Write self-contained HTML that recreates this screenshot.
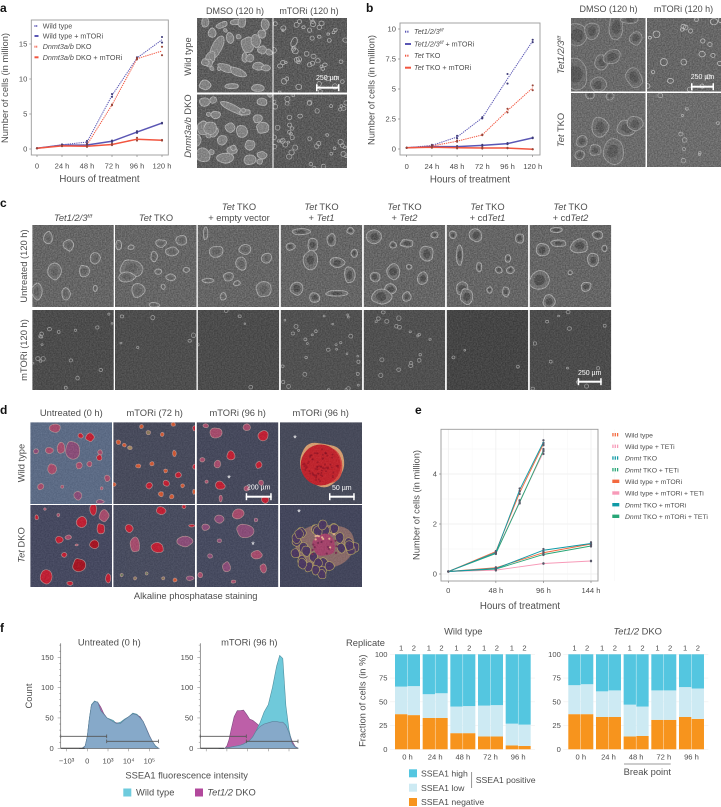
<!DOCTYPE html>
<html lang="en">
<head>
<meta charset="utf-8">
<title>Cell proliferation figure</title>
<style>
html,body{margin:0;padding:0;background:#fff;}
svg{display:block;font-family:"Liberation Sans",sans-serif;}
text{fill:#4d4d4d;}
.t{font-size:9.35px;}
.hd{font-size:9px;}
.fl{font-size:8.7px;}
.tick{font-size:7.6px;}
.leg{font-size:7.2px;}
.lege{font-size:6.8px;}
.letter{font-size:12px;font-weight:bold;fill:#111;}
.mid{text-anchor:middle;}
.w{fill:#fff;font-size:7px;}
</style>
</head>
<body>
<svg id="root" xmlns="http://www.w3.org/2000/svg" width="721" height="807" viewBox="0 0 721 807">
<defs>
<filter id="grain" x="0" y="0" width="100%" height="100%" color-interpolation-filters="sRGB">
<feTurbulence type="fractalNoise" baseFrequency="0.75" numOctaves="2" seed="4"/>
<feColorMatrix values="1.7 0 0 0 -.35 1.7 0 0 0 -.35 1.7 0 0 0 -.35 0 0 0 0 .3"/>
</filter>
</defs>
<g id="micrographs"></g>
<g id="charts"></g>

<g>
<text class="letter" x="0" y="12">a</text>
<text class="letter" x="366" y="12">b</text>
<text class="letter" x="0" y="207">c</text>
<text class="letter" x="0" y="414">d</text>
<text class="letter" x="415" y="414">e</text>
<text class="letter" x="0" y="632">f</text>
</g>

<g>
<text class="hd mid" x="235" y="14">DMSO (120 h)</text>
<text class="hd mid" x="309" y="14">mTORi (120 h)</text>
<text class="t mid" transform="translate(191,56.5) rotate(-90)">Wild type</text>
<text class="t mid" transform="translate(191,126) rotate(-90)"><tspan font-style="italic">Dnmt3a/b</tspan> DKO</text>
<text class="t mid" transform="translate(8,88) rotate(-90)">Number of cells (in million)</text>
<text class="t mid" x="99.5" y="182" style="font-size:9.7px">Hours of treatment</text>
<text class="leg" x="42.7" y="28.6">Wild type</text>
<text class="leg" x="42.7" y="38.6">Wild type + mTORi</text>
<text class="leg" x="42.7" y="49.2"><tspan font-style="italic">Dnmt3a/b</tspan> DKO</text>
<text class="leg" x="42.7" y="59.8"><tspan font-style="italic">Dnmt3a/b</tspan> DKO + mTORi</text>
</g>

<g>
<text class="hd mid" x="608.5" y="12">DMSO (120 h)</text>
<text class="hd mid" x="683.5" y="12">mTORi (120 h)</text>
<text class="t mid" transform="translate(564,55) rotate(-90)"><tspan font-style="italic">Tet1/2/3</tspan><tspan font-style="italic" font-size="5.5" dy="-3">f/f</tspan></text>
<text class="t mid" transform="translate(564,130) rotate(-90)"><tspan font-style="italic">Tet</tspan> TKO</text>
<text class="t mid" transform="translate(374.5,90) rotate(-90)">Number of cells (in million)</text>
<text class="t mid" x="470" y="182.5" style="font-size:9.7px">Hours of treatment</text>
<text class="leg" x="414" y="34.2"><tspan font-style="italic">Tet1/2/3</tspan><tspan font-style="italic" font-size="4.5" dy="-2.5">f/f</tspan></text>
<text class="leg" x="414" y="46.6"><tspan font-style="italic">Tet1/2/3</tspan><tspan font-style="italic" font-size="4.5" dy="-2.5">f/f</tspan><tspan dy="2.5"> + mTORi</tspan></text>
<text class="leg" x="414" y="58.2"><tspan font-style="italic">Tet</tspan> TKO</text>
<text class="leg" x="414" y="70.2"><tspan font-style="italic">Tet</tspan> TKO + mTORi</text>
</g>

<g>
<text class="t mid" x="73" y="221"><tspan font-style="italic">Tet1/2/3</tspan><tspan font-style="italic" font-size="5.5" dy="-3">f/f</tspan></text>
<text class="t mid" x="156" y="221"><tspan font-style="italic">Tet</tspan> TKO</text>
<text class="t mid" x="239" y="210"><tspan font-style="italic">Tet</tspan> TKO</text>
<text class="t mid" x="239" y="221">+ empty vector</text>
<text class="t mid" x="321.5" y="210"><tspan font-style="italic">Tet</tspan> TKO</text>
<text class="t mid" x="321.5" y="221">+ <tspan font-style="italic">Tet1</tspan></text>
<text class="t mid" x="404.5" y="210"><tspan font-style="italic">Tet</tspan> TKO</text>
<text class="t mid" x="404.5" y="221">+ <tspan font-style="italic">Tet2</tspan></text>
<text class="t mid" x="487.5" y="210"><tspan font-style="italic">Tet</tspan> TKO</text>
<text class="t mid" x="487.5" y="221">+ cd<tspan font-style="italic">Tet1</tspan></text>
<text class="t mid" x="570.5" y="210"><tspan font-style="italic">Tet</tspan> TKO</text>
<text class="t mid" x="570.5" y="221">+ cd<tspan font-style="italic">Tet2</tspan></text>
<text class="t mid" transform="translate(27,266) rotate(-90)">Untreated (120 h)</text>
<text class="t mid" transform="translate(27,350) rotate(-90)">mTORi (120 h)</text>
</g>

<g>
<text class="t mid" x="71.3" y="416">Untreated (0 h)</text>
<text class="t mid" x="154.7" y="416">mTORi (72 h)</text>
<text class="t mid" x="237.7" y="416">mTORi (96 h)</text>
<text class="t mid" x="320.7" y="416">mTORi (96 h)</text>
<text class="t mid" transform="translate(24.5,463) rotate(-90)">Wild type</text>
<text class="t mid" transform="translate(24.5,545) rotate(-90)"><tspan font-style="italic">Tet</tspan> DKO</text>
<text class="t mid" x="195.7" y="599">Alkaline phosphatase staining</text>
</g>

<g>
<text class="t mid" transform="translate(419.5,505) rotate(-90)">Number of cells (in million)</text>
<text class="t mid" x="520" y="609" style="font-size:9.7px">Hours of treatment</text>
<text class="lege" x="625" y="437.3">Wild type</text>
<text class="lege" x="625" y="449">Wild type + TETi</text>
<text class="lege" x="625" y="460.6"><tspan font-style="italic">Dnmt</tspan> TKO</text>
<text class="lege" x="625" y="472.3"><tspan font-style="italic">Dnmt</tspan> TKO + TETi</text>
<text class="lege" x="625" y="484">Wild type + mTORi</text>
<text class="lege" x="625" y="495.6">Wild type + mTORi + TETi</text>
<text class="lege" x="625" y="507.3"><tspan font-style="italic">Dnmt</tspan> TKO + mTORi</text>
<text class="lege" x="625" y="519"><tspan font-style="italic">Dnmt</tspan> TKO + mTORi + TETi</text>
</g>

<g>
<text class="t mid" x="109.3" y="645.5">Untreated (0 h)</text>
<text class="t mid" x="249.3" y="645.5">mTORi (96 h)</text>
<text class="t mid" transform="translate(32,696) rotate(-90)">Count</text>
<text class="t mid" x="186.7" y="778.5">SSEA1 fluorescence intensity</text>
<rect x="123.3" y="788.5" width="8" height="8" fill="#6ecbdd"/>
<text class="t" x="136" y="795.5">Wild type</text>
<rect x="195" y="788.5" width="8" height="8" fill="#b2489c"/>
<text class="t" x="207.3" y="795.5"><tspan font-style="italic">Tet1/2</tspan> DKO</text>
<text class="t mid" x="463.3" y="634.5">Wild type</text>
<text class="t mid" x="637.7" y="634.5"><tspan font-style="italic">Tet1/2</tspan> DKO</text>
<text class="t" x="346" y="646">Replicate</text>
<text class="t mid" transform="translate(365.5,700.7) rotate(-90)">Fraction of cells (in %)</text>
<line x1="624" y1="764" x2="670.7" y2="764" stroke="#777" stroke-width=".7"/>
<text class="t mid" x="647.3" y="775">Break point</text>
<rect x="409" y="769.3" width="8" height="8" fill="#54c6e0"/>
<text class="fl" x="421" y="776.5">SSEA1 high</text>
<rect x="409" y="783.7" width="8" height="8" fill="#cdeaf3"/>
<text class="fl" x="421" y="790.8">SSEA1 low</text>
<rect x="409" y="798" width="8" height="8" fill="#f7941d"/>
<text class="fl" x="421" y="805">SSEA1 negative</text>
<line x1="471.7" y1="772" x2="471.7" y2="788" stroke="#666" stroke-width=".7"/>
<text class="fl" x="475.7" y="782.8">SSEA1 positive</text>
</g>
</svg>

<script>
/* ---------- panel a data ---------- */
const aHours = [0, 24, 48, 72, 96, 120];
const aHourLabels = ['0', '24 h', '48 h', '72 h', '96 h', '120 h'];
const aYTicks = [0, 5, 10, 15];
const aWtRep1 = [0.1, 0.65, 1.15, 7.85, 13.1, 16];
const aWtRep2 = [0.1, 0.55, 0.85, 7.45, 12.9, 15.2];
const aWtMtorRep1 = [0.1, 0.6, 0.65, 1.2, 2.55, 3.75];
const aWtMtorRep2 = [0.1, 0.5, 0.5, 1.0, 2.3, 3.65];
const aDkoRep1 = [0.1, 0.55, 0.75, 6.35, 13, 14.6];
const aDkoRep2 = [0.1, 0.45, 0.45, 6.25, 12.8, 13.4];
const aDkoMtorRep1 = [0.1, 0.5, 0.5, 0.75, 1.6, 1.3];
const aDkoMtorRep2 = [0.1, 0.4, 0.3, 0.55, 1.2, 1.2];

/* ---------- panel b data ---------- */
const bHours = [0, 24, 48, 72, 96, 120];
const bHourLabels = ['0', '24 h', '48 h', '72 h', '96 h', '120 h'];
const bYTicks = [0, 2.5, 5, 7.5, 10];
const bFlRep1 = [0.1, 0.35, 1.1, 2.65, 6.25, 9.1];
const bFlRep2 = [0.1, 0.25, 0.9, 2.55, 5.45, 8.9];
const bFlMtorRep1 = [0.1, 0.25, 0.25, 0.35, 0.5, 0.95];
const bFlMtorRep2 = [0.1, 0.15, 0.15, 0.25, 0.4, 0.9];
const bTkoRep1 = [0.1, 0.3, 0.7, 1.2, 3.35, 5.3];
const bTkoRep2 = [0.1, 0.2, 0.6, 1.15, 3.05, 4.9];
const bTkoMtorRep1 = [0.1, 0.2, 0.15, 0.12, 0.1, -0.01];
const bTkoMtorRep2 = [0.1, 0.1, 0.05, 0.04, 0.06, -0.03];

/* ---------- panel e data ---------- */
const eTickHours = [0, 48, 96, 144];
const eTickLabels = ['0', '48 h', '96 h', '144 h'];
const eYTicks = [0, 2, 4];
const eUntreatedHours = [0, 48, 72, 96];
const eMtorHours = [0, 48, 96, 144];
const eWtRep1 = [0.1, 0.92, 3.3, 5.25];
const eWtRep2 = [0.1, 0.88, 3.2, 5.15];
const eWtTetiRep1 = [0.1, 0.86, 2.95, 4.95];
const eWtTetiRep2 = [0.1, 0.82, 2.85, 4.8];
const eDnmtRep1 = [0.1, 0.88, 3.42, 5.35];
const eDnmtRep2 = [0.1, 0.84, 3.32, 5.2];
const eDnmtTetiRep1 = [0.1, 0.84, 2.92, 5.0];
const eDnmtTetiRep2 = [0.1, 0.8, 2.82, 4.9];
const eWtMtorRep1 = [0.1, 0.27, 0.88, 1.22];
const eWtMtorRep2 = [0.1, 0.23, 0.82, 1.18];
const eWtMtorTetiRep1 = [0.1, 0.17, 0.43, 0.53];
const eWtMtorTetiRep2 = [0.1, 0.14, 0.41, 0.51];
const eDnmtMtorRep1 = [0.1, 0.24, 1.0, 1.27];
const eDnmtMtorRep2 = [0.1, 0.2, 0.9, 1.17];
const eDnmtMtorTetiRep1 = [0.1, 0.22, 0.8, 1.14];
const eDnmtMtorTetiRep2 = [0.1, 0.18, 0.76, 1.1];

/* ---------- panel f histogram data ---------- */
const histBins = [-0.4, -0.25, -0.1, 0, 0.1, 0.2, 0.35, 0.5, 0.65, 0.8, 0.95, 1.1, 1.25, 1.4, 1.6, 1.8, 2.0, 2.2, 2.4, 2.55, 2.7, 2.85, 3.0, 3.15, 3.3, 3.45];
const histTickLabels = ['\u221210\u00B3', '0', '10\u00B3', '10\u2074', '10\u2075'];
const histTickValues = [-1, 0, 1, 2, 3];
const histYTicks = [0, 50, 100, 150];
const histUntreatedWt = [0, 0, 4, 20, 50, 72, 78, 76, 62, 56, 50, 48, 46, 41, 43, 48, 52, 58, 56, 50, 44, 32, 20, 11, 4, 0];
const histUntreatedDko = [0, 0, 4, 19, 48, 71, 77, 76, 68, 57, 50, 47, 44, 42, 41, 47, 52, 57, 55, 52, 44, 33, 21, 11, 3, 0];
const histMtorWt = [0, 0, 0, 1, 1, 2, 3, 4, 5, 7, 10, 13, 19, 28, 42, 60, 72, 100, 135, 153, 148, 70, 30, 8, 2, 0];
const histMtorDko = [0, 0, 0, 4, 14, 30, 52, 62, 62, 63, 56, 48, 46, 42, 36, 40, 42, 44, 44, 43, 43, 38, 26, 12, 3, 0];

/* ---------- panel f bar data ---------- */
const barFacets = ['0 h', '24 h', '48 h', '72 h', '96 h'];
const barReplicates = ['1', '2'];
const barYTicks = [0, 25, 50, 75, 100];
const wtNegative = [37, 36, 33, 33, 17, 17, 13.5, 13.5, 4, 3.5];
const wtLow = [29, 30.5, 25, 26, 28, 28.5, 32.5, 33, 23, 22.5];
const wtHigh = [34, 33.5, 42, 41, 55, 54.5, 54, 53.5, 73, 74];
const dkoNegative = [37, 37, 34, 34, 13.5, 14, 31, 31, 34, 32];
const dkoLow = [30.5, 31.5, 27, 28, 33.5, 31, 31, 31, 31.5, 32];
const dkoHigh = [32.5, 31.5, 39, 38, 53, 55, 38, 38, 34.5, 36];

/* ---------- helpers ---------- */
const NS = 'http://www.w3.org/2000/svg';
const micro = document.getElementById('micrographs');
const charts = document.getElementById('charts');
function mk(tag, attrs, parent) {
  const e = document.createElementNS(NS, tag);
  for (const k in attrs) e.setAttribute(k, attrs[k]);
  parent.appendChild(e);
  return e;
}
function mean(a, b) { return a.map((v, i) => (v + b[i]) / 2); }
function seeded(s) {
  return function () {
    s |= 0; s = s + 0x6D2B79F5 | 0;
    let t = Math.imul(s ^ s >>> 15, 1 | s);
    t = t + Math.imul(t ^ t >>> 7, 61 | t) ^ t;
    return ((t ^ t >>> 14) >>> 0) / 4294967296;
  };
}
const shapeRnd = seeded(2024);
function blobPath(cx, cy, rx, ry, rot) {
  const n = 9, pts = [];
  const c = Math.cos((rot || 0) * Math.PI / 180), s = Math.sin((rot || 0) * Math.PI / 180);
  for (let i = 0; i < n; i++) {
    const a = i / n * 2 * Math.PI, f = 0.84 + shapeRnd() * 0.32;
    const px = Math.cos(a) * rx * f, py = Math.sin(a) * ry * f;
    pts.push([cx + px * c - py * s, cy + px * s + py * c]);
  }
  const m = (p, q) => ((p[0] + q[0]) / 2).toFixed(2) + ' ' + ((p[1] + q[1]) / 2).toFixed(2);
  let d = 'M' + m(pts[n - 1], pts[0]);
  for (let i = 0; i < n; i++) {
    d += 'Q' + pts[i][0].toFixed(2) + ' ' + pts[i][1].toFixed(2) + ' ' + m(pts[i], pts[(i + 1) % n]);
  }
  return d + 'Z';
}

/* ---------- micrograph tiles ---------- */
let clipCount = 0;
function tile(name, x, y, w, h, base) {
  const id = 'clip' + (clipCount++);
  const cp = mk('clipPath', { id: id }, micro);
  mk('rect', { x: x, y: y, width: w, height: h }, cp);
  const g = mk('g', { 'clip-path': 'url(#' + id + ')' }, micro);
  
  
  mk('rect', { x: x, y: y, width: w, height: h, fill: base }, g);
  return { g, x, y, w, h };
}
function grain(t, alpha) {
  mk('rect', { x: t.x, y: t.y, width: t.w, height: t.h, filter: 'url(#grain)', opacity: alpha === undefined ? 0.55 : alpha }, t.g);
}
function grayBlobs(t, list, fill, stroke, dark, scale) {
  const k = scale || 1;
  list.forEach(b => {
    mk('path', { d: blobPath(b[0], b[1], b[2] * k, b[3] * k, b[4]), fill: fill, stroke: stroke, 'stroke-width': .9 }, t.g);
    if (dark) mk('path', { d: blobPath(b[0], b[1], b[2] * k * 0.55, b[3] * k * 0.55, b[4]), fill: dark, opacity: .7 }, t.g);
  });
}
function rings(t, n, seed, rMin, rMax, color) {
  const r = seeded(seed);
  for (let i = 0; i < n; i++) {
    const rad = rMin + r() * (rMax - rMin);
    mk('ellipse', { cx: t.x + r() * t.w, cy: t.y + r() * t.h, rx: rad, ry: rad * (0.8 + r() * 0.3), fill: 'none', stroke: color, 'stroke-width': .8 }, t.g);
  }
}
function smallColonies(t, n, seed, fill, stroke) {
  const r = seeded(seed);
  for (let i = 0; i < n; i++) {
    const rad = 2 + r() * 2.5;
    mk('path', { d: blobPath(t.x + r() * t.w, t.y + r() * t.h, rad, rad * (0.7 + r() * 0.4), r() * 90), fill: fill, stroke: stroke, 'stroke-width': .8 }, t.g);
  }
}
function scaleBar(x1, x2, y, label, ty, name) {
  const g = mk('g', {}, micro);
  
  
  mk('rect', { x: x1, y: y - 1, width: x2 - x1, height: 2, fill: '#fff' }, g);
  mk('rect', { x: x1, y: y - 3.5, width: 1.5, height: 7, fill: '#fff' }, g);
  mk('rect', { x: x2 - 1.5, y: y - 3.5, width: 1.5, height: 7, fill: '#fff' }, g);
  const t = mk('text', { x: (x1 + x2) / 2, y: ty, class: 'w mid' }, g);
  t.textContent = label;
}

function buildMicrographs() {
  /* panel a */
  const aFill = '#858585', aStroke = '#b8b8b8';
  let t = tile('a-wild-type-dmso-image', 197, 18, 75.5, 74.5, '#555');
  grayBlobs(t, [[217,47,5,14,28],[210,58,5,7,30],[248,44,7,8,0],[256,41,5,7,0],[226,68,9,4,20],[238,72,9,4,25],[258,66,6,4,0],[266,68,5,3,0],[222,25,6,3,-20],[236,22,6,3,0],[230,38,4,6,0],[265,24,4,6,0],[205,85,6,5,0],[232,86,7,3,0],[258,88,7,4,0],[212,33,4,5,0],[262,50,5,4,0],[242,22,4,6,0],[205,22,4,5,0],[262,34,4,4,0],[245,58,3,5,0]], aFill, aStroke);
  smallColonies(t, 8, 71, aFill, aStroke);
  grain(t);
  t = tile('a-wild-type-mtori-image', 273.5, 18, 73.5, 74.5, '#535353');
  rings(t, 48, 11, 1.2, 3, '#b8b8b8');
  grayBlobs(t, [[294,42,3,5,20]], 'none', '#b8b8b8');
  grain(t);
  t = tile('a-dko-dmso-image', 197, 94.5, 75.5, 73.5, '#575757');
  grayBlobs(t, [[232,108,15,3.5,27],[245,112,6,3,0],[203,128,6,7,0],[216,115,5,4,0],[258,119,5,4,0],[212,131,7,6,0],[210,128,7,7,0],[242,131,6,6,0],[263,128,7,6,0],[222,140,5,5,0],[250,145,5,5,0],[232,150,5,4,0],[203,155,7,8,0],[225,158,8,5,0],[250,160,7,5,0],[262,155,5,4,0],[205,102,6,4,0],[262,102,5,4,0],[230,128,5,5,0],[197,140,4,6,0]], aFill, aStroke);
  smallColonies(t, 8, 72, aFill, aStroke);
  grain(t);
  t = tile('a-dko-mtori-image', 273.5, 94.5, 73.5, 73.5, '#535353');
  rings(t, 45, 23, 1.2, 2.8, '#b0b0b0');
  grain(t);
  scaleBar(316, 339.5, 87.7, '250 \u00B5m', 80, 'a-scale-bar');

  /* panel b */
  t = tile('b-fl-dmso-image', 571, 18, 74.5, 73.5, '#666');
  grayBlobs(t, [[577,35,12,13,0],[592,31,8,9,0],[616,27,8,13,0],[636,38,7,7,0],[602,62,7,8,0],[612,57,10,7,-30],[634,77,8,11,-20],[575,75,14,16,0],[598,85,8,8,0],[630,20,9,4,0]], '#6a6a6a', '#9c9c9c', '#474747');
  grain(t);
  t = tile('b-fl-mtori-image', 647, 18, 74, 73.5, '#626262');
  rings(t, 22, 37, 1.5, 3.6, '#c6c6c6');
  grain(t);
  t = tile('b-tko-dmso-image', 571, 93, 74.5, 74, '#686868');
  grayBlobs(t, [[600,127,9,11,0],[627,128,10,9,0],[635,124,8,8,0],[582,141,6,6,0],[595,150,6,6,0],[613,151,11,13,0],[580,155,5,5,0],[590,95,5,4,0],[610,96,4,4,0]], '#6c6c6c', '#a4a4a4', '#4a4a4a');
  grain(t);
  t = tile('b-tko-mtori-image', 647, 93, 74, 74, '#696969');
  rings(t, 10, 41, 1, 2.6, '#b4b4b4');
  grain(t);
  scaleBar(691, 714, 86.7, '250 \u00B5m', 79, 'b-scale-bar');

  /* panel c */
  const cX = [32.3, 115, 197.7, 280.7, 363.7, 446.7, 529.7];
  const cTop = [
    [[105,145,10,20],[150,165,12,18],[207,205,12,20],[118,245,15,25],[183,243,12,18],[80,305,12,25],[143,310,10,20],[207,295,5,10]],
    [[350,160,12,12],[395,150,12,15],[335,200,8,18],[375,185,15,14],[285,235,25,28],[275,260,20,15],[345,245,8,9],[370,262,12,10],[405,240,7,8],[300,303,15,22],[258,165,7,15],[285,172,7,7],[355,290,5,8],[335,345,12,8]],
    [[470,185,17,20],[533,178,15,16],[580,205,12,15],[525,222,12,20],[497,260,12,15],[515,280,8,8],[453,272,14,7],[485,320,7,12],[573,298,17,25],[447,130,5,20]],
    [[680,165,12,20],[720,150,10,20],[733,218,17,16],[675,210,15,28],[760,255,12,25],[645,295,15,22],[685,322,12,15],[733,310,25,10],[632,170,10,12],[762,122,8,10],[770,190,8,12],[655,125,20,10]],
    [[815,140,17,22],[855,165,8,10],[928,192,15,25],[885,160,15,12],[855,245,17,25],[815,260,12,15],[850,298,14,17],[920,265,12,20],[830,320,22,25],[890,230,6,8],[885,320,10,15],[945,135,8,10]],
    [[1035,135,15,22],[1130,145,10,15],[1000,195,8,30],[1005,295,15,20],[1015,320,15,25],[1085,240,8,10],[1110,240,8,10],[1105,205,6,12],[1042,232,6,15],[1100,305,8,15],[985,135,8,12],[1065,300,6,10]],
    [[1260,168,20,22],[1215,160,18,10],[1180,180,14,20],[1173,270,22,30],[1290,210,12,20],[1240,248,5,7],[1275,290,12,15],[1195,335,15,20],[1210,120,15,8],[1315,175,6,10],[1300,135,12,12]]
  ];
  const cBottomCounts = [18, 6, 5, 30, 18, 3, 12];
  const cBottomBase = ['#474747', '#484848', '#464646', '#4c4c4c', '#4b4b4b', '#3f3f3f', '#464646'];
  cX.forEach((x, i) => {
    let c = tile('c-untreated-image-' + (i + 1), x, 225, 81.5, 82, '#616161');
    const list = cTop[i].map(b => [b[0] / 2.175, b[1] / 3 + 190, b[2] / 2.175, b[3] / 3, 0]);
    grayBlobs(c, list, '#6e6e6e', '#b0b0b0', i < 3 ? '#585858' : '#3a3a3a');
    grain(c);
    c = tile('c-mtori-image-' + (i + 1), x, 310, 81.5, 80, cBottomBase[i]);
    rings(c, cBottomCounts[i], 50 + i, 0.8, 2.2, '#9c9c9c');
    grain(c, .38);
  });
  scaleBar(577.7, 601.7, 381.7, '250 \u00B5m', 375, 'c-scale-bar');

  /* panel d */
  const dRed = '#c51a30', dPink = '#a8496c', dOrange = '#d4562e', dPurple = '#8b4a78';
  function dBlobs(tl, list) {
    list.forEach(b => {
      const cx = b[0] / 3, cy = 365 + b[1] / 3, rx = b[2] / 3, ry = b[3] / 3;
      mk('path', { d: blobPath(cx, cy, rx, ry, 0), fill: b[4], stroke: '#c99f9c', 'stroke-width': .7, 'stroke-opacity': .8 }, tl.g);
    });
  }
  let d = tile('d-wild-type-untreated-image', 30.3, 422.3, 81.7, 81.7, '#5a6a86');
  dBlobs(d, [[165,190,18,12,dPink],[242,212,8,8,dRed],[270,217,13,13,dRed],[148,257,14,10,dPink],[183,248,12,18,dPink],[218,255,22,26,dPurple],[157,312,13,17,dPink],[238,302,10,10,dPink],[268,297,8,8,dPink],[300,262,7,8,dPink],[298,278,9,9,dRed],[322,340,8,10,dPink],[122,365,10,10,dPink],[187,365,5,5,dPink],[233,392,13,13,dPurple],[300,410,12,6,dPurple],[108,258,8,8,dPurple],[305,370,4,5,dPink]]);
  grain(d, .25);
  d = tile('d-wild-type-72h-image', 113.3, 422.3, 81.7, 81.7, '#45485a');
  dBlobs(d, [[520,178,7,6,dOrange],[425,185,6,6,dOrange],[445,203,7,6,'#8a7a5a'],[487,208,6,6,dOrange],[355,232,7,7,dOrange],[373,240,6,6,dOrange],[390,248,7,6,'#a08a60'],[523,265,6,10,dOrange],[415,303,8,7,dOrange],[456,296,7,7,dOrange],[497,318,6,6,dOrange],[535,330,9,9,dRed],[583,305,5,8,dRed],[447,362,10,10,dRed],[499,355,10,10,dRed],[548,362,6,6,dOrange],[483,387,8,8,dOrange],[515,395,7,7,dOrange],[583,190,5,8,dRed],[343,358,6,6,dOrange],[582,380,5,8,dOrange]]);
  grain(d, .25);
  d = tile('d-wild-type-96h-image', 196.7, 422.3, 81.6, 81.7, '#42465a');
  dBlobs(d, [[617,182,8,6,dPink],[647,203,18,16,dPink],[740,187,12,11,dPink],[790,213,17,16,dRed],[693,271,13,13,dRed],[607,285,8,7,dPink],[652,297,10,11,dPink],[777,300,10,11,dRed],[660,362,15,13,dRed],[783,353,8,8,dPink],[740,370,8,8,dPink],[620,350,5,5,dPink],[795,405,12,11,dRed],[662,400,5,10,dPink]]);
  grain(d, .25);
  d = tile('d-wild-type-zoom-image', 280, 422.3, 82, 81.7, '#454859');
  mk('path', { d: blobPath(320.7, 465, 23, 23.5, 0), fill: '#d9a070' }, d.g);
  mk('path', { d: blobPath(320.7, 465, 21.8, 22.3, 0), fill: '#d84a40' }, d.g);
  mk('ellipse', { cx: 320.7, cy: 465, rx: 20, ry: 20.5, fill: '#c4202a' }, d.g);
  let rnd = seeded(77);
  for (let i = 0; i < 70; i++) {
    const ang = rnd() * 6.283, rr = Math.sqrt(rnd()) * 18;
    mk('circle', { cx: 320.7 + Math.cos(ang) * rr, cy: 465 + Math.sin(ang) * rr, r: 1, fill: '#8a0f20', opacity: .55 }, d.g);
  }
  grain(d, .2);
  d = tile('d-dko-untreated-image', 30.3, 505, 81.7, 82, '#42465e');
  dBlobs(d, [[280,432,10,18,dRed],[245,470,17,17,dRed],[312,452,15,18,dPink],[302,492,13,17,dRed],[178,525,12,11,dRed],[205,517,10,7,dPink],[282,537,14,14,'#a8101f'],[193,570,8,7,dRed],[238,600,20,21,'#a8101f'],[138,635,18,22,dRed],[325,640,8,14,dRed],[110,457,6,8,dRed],[210,655,10,6,dRed],[230,540,5,3,dPink],[135,432,4,4,dPink],[175,450,5,5,dPink]]);
  grain(d, .25);
  d = tile('d-dko-72h-image', 113.3, 505, 81.7, 82, '#45495d');
  dBlobs(d, [[483,437,16,13,dRed],[388,490,13,13,dRed],[405,540,15,24,dPink],[472,548,20,17,dRed],[552,530,25,16,dPurple],[575,482,10,4,dRed],[552,425,6,6,dRed],[365,630,5,5,'#6b7a5a'],[405,640,5,5,'#8a7a5a'],[440,625,5,5,'#6b7a5a'],[490,640,5,5,'#8a7a5a'],[525,645,7,6,dOrange],[570,640,12,7,dPurple]]);
  grain(d, .25);
  d = tile('d-dko-96h-image', 196.7, 505, 81.6, 82, '#44485e');
  dBlobs(d, [[657,462,15,13,dPurple],[715,447,18,15,dPink],[735,497,25,20,dPurple],[617,487,12,10,dPurple],[770,570,18,14,dPink],[680,605,12,15,dPurple],[790,610,10,14,dPink],[630,573,8,7,dPurple],[600,630,8,8,dPink],[700,650,8,5,dPink],[658,527,7,6,dPurple],[768,465,6,6,dPurple]]);
  grain(d, .25);
  d = tile('d-dko-zoom-image', 280, 505, 82, 82, '#40435a');
  mk('path', { d: blobPath(324, 547, 31, 26, 0), fill: '#8a6a68' }, d.g);
  rnd = seeded(99);
  for (let i = 0; i < 30; i++) {
    const ang = rnd() * 6.283, rr = 0.45 + rnd() * 0.55;
    mk('path', { d: blobPath(324 + Math.cos(ang) * rr * 34, 547 + Math.sin(ang) * rr * 28, 4.6, 5.2, 0), fill: '#4a3560', stroke: '#b8a860', 'stroke-width': .6 }, d.g);
  }
  mk('path', { d: blobPath(324, 545, 13, 12, 0), fill: '#a6406a' }, d.g);
  rnd = seeded(15);
  for (let i = 0; i < 22; i++) {
    mk('circle', { cx: 312 + rnd() * 25, cy: 534 + rnd() * 22, r: 1.1, fill: rnd() > .5 ? '#e8b090' : '#7a2a50' }, d.g);
  }
  grain(d, .2);
  scaleBar(245.7, 271.7, 496.7, '200 \u00B5m', 489.5, 'd-scale-bar-200');
  scaleBar(329, 354.7, 496.7, '50 \u00B5m', 490, 'd-scale-bar-50');
  [[229, 481.5], [295, 441.5], [253, 548], [299, 515.5]].forEach(p => {
    const s = mk('text', { x: p[0], y: p[1], class: 'mid', style: 'fill:#fff;font-size:9px' }, micro);
    
    
    s.textContent = '*';
  });
}

/* ---------- line charts ---------- */
function lineFrame(name, box, xs, xLabels, ys, xF, yF, xLabelY, grid) {
  const g = mk('g', {}, charts);
  
  
  if (grid) grid(g);
  const f = mk('rect', { x: box[0], y: box[1], width: box[2] - box[0], height: box[3] - box[1], fill: 'none', stroke: '#9a9a9a', 'stroke-width': .9 }, g);
  
  
  xs.forEach((v, i) => {
    mk('line', { x1: xF(v), x2: xF(v), y1: box[3], y2: box[3] + 2, stroke: '#777', 'stroke-width': .6 }, g);
    const t = mk('text', { x: xF(v), y: xLabelY, class: 'tick mid' }, g);
    
    
    t.textContent = xLabels[i];
  });
  ys.forEach(v => {
    mk('line', { x1: box[0] - 2, x2: box[0], y1: yF(v), y2: yF(v), stroke: '#777', 'stroke-width': .6 }, g);
    const t = mk('text', { x: box[0] - 4, y: yF(v) + 2.6, class: 'tick', 'text-anchor': 'end' }, g);
    
    
    t.textContent = String(v);
  });
  return g;
}
function drawSeries(parent, name, hours, rep1, rep2, xF, yF, color, dotted, width, ptColor, ptR) {
  const avg = mean(rep1, rep2);
  const line = mk('polyline', {
    points: hours.map((h, i) => xF(h).toFixed(2) + ',' + yF(avg[i]).toFixed(2)).join(' '),
    fill: 'none', stroke: color, 'stroke-width': width
  }, parent);
  if (dotted) line.setAttribute('stroke-dasharray', '1.3 .9');
  
  
  hours.forEach((h, i) => {
    [rep1[i], rep2[i]].forEach(v => {
      const c = mk('circle', { cx: xF(h), cy: yF(v), r: ptR, fill: ptColor }, parent);
      
      
    });
  });
}
function legendSwatch(parent, name, x, y, w, h, color, dotted) {
  if (dotted) {
    const n = Math.max(2, Math.round(w / 2.2));
    const step = w / n;
    for (let i = 0; i < n; i++) {
      const s = mk('rect', { x: x + i * step, y: y - h / 2, width: step * 0.55, height: h, fill: color }, parent);
      
      
    }
  } else {
    const s = mk('rect', { x: x, y: y - h / 2, width: w, height: h, fill: color }, parent);
    
    
  }
}

function buildLineCharts() {
  const blue = '#5a56b4', red = '#f2553f', blueDark = '#3d3a78', redDark = '#9a4538';
  /* a */
  const ax = v => 37 + v * (125 / 120);
  const ay = v => 149 - v * 7;
  const ga = lineFrame('chart-a', [31.3, 20, 168.3, 155], aHours, aHourLabels, aYTicks, ax, ay, 168.5);
  drawSeries(ga, 'a-wild-type', aHours, aWtRep1, aWtRep2, ax, ay, blue, true, 1, blueDark, 1.05);
  drawSeries(ga, 'a-dko', aHours, aDkoRep1, aDkoRep2, ax, ay, red, true, 1, redDark, 1.05);
  drawSeries(ga, 'a-wild-type-mtori', aHours, aWtMtorRep1, aWtMtorRep2, ax, ay, blue, false, 1.5, blueDark, 1.05);
  drawSeries(ga, 'a-dko-mtori', aHours, aDkoMtorRep1, aDkoMtorRep2, ax, ay, red, false, 1.5, redDark, 1.05);
  legendSwatch(ga, 'a-legend-swatch', 34.5, 26, 3.5, 2, blue, true);
  legendSwatch(ga, 'a-legend-swatch', 34.5, 36, 4, 2, blue, false);
  legendSwatch(ga, 'a-legend-swatch', 34.5, 46.7, 3.5, 2, red, true);
  legendSwatch(ga, 'a-legend-swatch', 34.5, 57.3, 4, 2, red, false);

  /* b */
  const bx = v => 406.7 + v * (126 / 120);
  const by = v => 149 - v * 12;
  const gb = lineFrame('chart-b', [400, 23, 540, 155], bHours, bHourLabels, bYTicks, bx, by, 169);
  drawSeries(gb, 'b-fl', bHours, bFlRep1, bFlRep2, bx, by, blue, true, 1, blueDark, 1.05);
  drawSeries(gb, 'b-tko', bHours, bTkoRep1, bTkoRep2, bx, by, red, true, 1, redDark, 1.05);
  drawSeries(gb, 'b-fl-mtori', bHours, bFlMtorRep1, bFlMtorRep2, bx, by, blue, false, 1.5, blueDark, 1.05);
  drawSeries(gb, 'b-tko-mtori', bHours, bTkoMtorRep1, bTkoMtorRep2, bx, by, red, false, 1.5, redDark, 1.05);
  legendSwatch(gb, 'b-legend-swatch', 405, 31.7, 4.5, 2, blue, true);
  legendSwatch(gb, 'b-legend-swatch', 405, 44, 6, 2, blue, false);
  legendSwatch(gb, 'b-legend-swatch', 405, 55.7, 4.5, 2, red, true);
  legendSwatch(gb, 'b-legend-swatch', 405, 67.7, 6, 2, red, false);

  /* e */
  const ex = v => 448.3 + v * (142.7 / 144);
  const ey = v => 574 - v * 25;
  const eBox = [441, 429.3, 598, 581];
  const ge = lineFrame('chart-e', eBox, eTickHours, eTickLabels, eYTicks, ex, ey, 593, g => {
    const grid = mk('g', {}, g);
    
    
    eYTicks.forEach(v => {
      mk('line', { x1: eBox[0], x2: eBox[2], y1: ey(v), y2: ey(v), stroke: '#ececec', 'stroke-width': .7 }, grid);
      mk('line', { x1: eBox[0], x2: eBox[2], y1: ey(v + 1), y2: ey(v + 1), stroke: '#f5f5f5', 'stroke-width': .5 }, grid);
    });
    eTickHours.forEach(v => {
      mk('line', { x1: ex(v), x2: ex(v), y1: eBox[1], y2: eBox[3], stroke: '#ececec', 'stroke-width': .7 }, grid);
      mk('line', { x1: ex(v + 24), x2: ex(v + 24), y1: eBox[1], y2: eBox[3], stroke: '#f5f5f5', 'stroke-width': .5 }, grid);
    });
  });
  const orange = '#f3693f', pink = '#f79ab8', teal = '#0f9aa6', green = '#27a676', pt = '#5a5a6a';
  drawSeries(ge, 'e-wild-type-teti', eUntreatedHours, eWtTetiRep1, eWtTetiRep2, ex, ey, pink, false, .9, pt, 1.15);
  drawSeries(ge, 'e-dnmt-teti', eUntreatedHours, eDnmtTetiRep1, eDnmtTetiRep2, ex, ey, green, false, .9, pt, 1.15);
  drawSeries(ge, 'e-wild-type', eUntreatedHours, eWtRep1, eWtRep2, ex, ey, orange, false, .9, pt, 1.15);
  drawSeries(ge, 'e-dnmt', eUntreatedHours, eDnmtRep1, eDnmtRep2, ex, ey, teal, false, .9, pt, 1.15);
  drawSeries(ge, 'e-wild-type-mtori-teti', eMtorHours, eWtMtorTetiRep1, eWtMtorTetiRep2, ex, ey, pink, false, .9, pt, 1.15);
  drawSeries(ge, 'e-dnmt-mtori-teti', eMtorHours, eDnmtMtorTetiRep1, eDnmtMtorTetiRep2, ex, ey, green, false, .9, pt, 1.15);
  drawSeries(ge, 'e-wild-type-mtori', eMtorHours, eWtMtorRep1, eWtMtorRep2, ex, ey, orange, false, .9, pt, 1.15);
  drawSeries(ge, 'e-dnmt-mtori', eMtorHours, eDnmtMtorRep1, eDnmtMtorRep2, ex, ey, teal, false, .9, pt, 1.15);
  [[434.7, orange, true], [446.3, pink, true], [458, teal, true], [469.7, green, true], [481.3, orange, false], [493, pink, false], [504.7, teal, false], [516.3, green, false]].forEach(s => {
    legendSwatch(ge, 'e-legend-swatch', 612.3, s[0], 7, 3.4, s[1], s[2]);
  });
}

/* ---------- histograms ---------- */
function hist(name, axisX, wt, dko) {
  const zero = axisX + 26.6;
  const hx = u => zero + u * 20.7;
  const hy = c => 748.3 - c * 0.607;
  const g = mk('g', {}, charts);
  
  
  function area(vals, fill, nm, stroke) {
    const pts = histBins.map((u, i) => hx(u).toFixed(2) + ',' + hy(vals[i]).toFixed(2)).join(' ');
    const p = mk('polygon', { points: hx(histBins[0]) + ',' + hy(0) + ' ' + pts + ' ' + hx(histBins[histBins.length - 1]) + ',' + hy(0), fill: fill }, g);
    if (stroke) { p.setAttribute('stroke', stroke); p.setAttribute('stroke-width', '.6'); }
    
    
  }
  area(dko, '#bd5fa8', name + '-dko-area', '#7d4a80');
  area(wt, '#6fc9da', name + '-wild-type-area', '#4f8f9f');
  area(wt.map((v, i) => Math.min(v, dko[i])), '#86a9c9', name + '-overlap-area', '#5f7f9a');
  /* axes */
  mk('line', { x1: axisX, x2: axisX, y1: 643.3, y2: 748.3, stroke: '#666', 'stroke-width': .7 }, g);
  mk('line', { x1: axisX, x2: axisX + 97.7, y1: 748.3, y2: 748.3, stroke: '#666', 'stroke-width': .7 }, g);
  mk('line', { x1: axisX, x2: axisX + 24, y1: 748.3, y2: 748.3, stroke: '#333', 'stroke-width': 1 }, g);
  for (let c = 0; c <= 170; c += 10) {
    mk('line', { x1: axisX - (c % 50 === 0 ? 3 : 1.5), x2: axisX, y1: hy(c), y2: hy(c), stroke: '#777', 'stroke-width': .5 }, g);
  }
  histYTicks.forEach(c => {
    const t = mk('text', { x: axisX - 7, y: hy(c) + 2.6, class: 'tick', 'text-anchor': 'end' }, g);
    
    
    t.textContent = String(c);
  });
  histTickValues.forEach((u, i) => {
    mk('line', { x1: hx(u), x2: hx(u), y1: 748.3, y2: 751.3, stroke: '#777', 'stroke-width': .5 }, g);
  });
  /* gates */
  const gate1 = mk('path', { d: 'M' + axisX + ' 736.3H' + (axisX + 46) + 'M' + axisX + ' 734.5v3.6M' + (axisX + 46) + ' 734.5v3.6', stroke: '#555', 'stroke-width': .8, fill: 'none' }, g);
  
  
  const gate2 = mk('path', { d: 'M' + (axisX + 46) + ' 741.3H' + (axisX + 97.7) + 'M' + (axisX + 46) + ' 739.5v3.6M' + (axisX + 97.7) + ' 739.5v3.6', stroke: '#555', 'stroke-width': .8, fill: 'none' }, g);
  
  
  return { g, hx };
}

/* ---------- stacked bars ---------- */
function bars(name, start, neg, low, high) {
  const bandW = 27.67, barW = 12.3;
  const by = v => 749.3 - v * 0.95;
  const g = mk('g', {}, charts);
  
  
  barYTicks.forEach(v => {
    mk('line', { x1: start - 5, x2: start + 140, y1: by(v), y2: by(v), stroke: '#efefef', 'stroke-width': .6 }, g);
    const t = mk('text', { x: start - 7.5, y: by(v) + 2.6, class: 'tick', 'text-anchor': 'end' }, g);
    
    
    t.textContent = String(v);
  });
  barFacets.forEach((lab, f) => {
    const fx = start + f * bandW;
    const t = mk('text', { x: fx + barW + 0.2, y: 759.5, class: 'tick mid' }, g);
    
    
    t.textContent = lab;
    barReplicates.forEach((rep, r) => {
      const i = f * 2 + r;
      const x = fx + r * (barW + 0.4);
      const segs = [[0, neg[i], '#f7941d', 'negative'], [neg[i], neg[i] + low[i], '#cdeaf3', 'low'], [neg[i] + low[i], neg[i] + low[i] + high[i], '#54c6e0', 'high']];
      segs.forEach(s => {
        const b = mk('rect', { x: x, y: by(s[1]), width: barW, height: by(s[0]) - by(s[1]), fill: s[2] }, g);
        
        
      });
      const rt = mk('text', { x: x + barW / 2, y: 650.5, class: 'tick mid' }, g);
      
      
      rt.textContent = rep;
    });
  });
}

buildMicrographs();
buildLineCharts();
const h1 = hist('hist-untreated', 60.7, histUntreatedWt, histUntreatedDko);
histTickValues.forEach((u, i) => {
  const t = mk('text', { x: h1.hx(u), y: 763.5, class: 'tick mid' }, h1.g);
  
  
  t.textContent = histTickLabels[i];
});
hist('hist-mtori', 200.3, histMtorWt, histMtorDko);
bars('bars-wild-type', 395, wtNegative, wtLow, wtHigh);
bars('bars-dko', 568.3, dkoNegative, dkoLow, dkoHigh);
</script>
</body>
</html>
